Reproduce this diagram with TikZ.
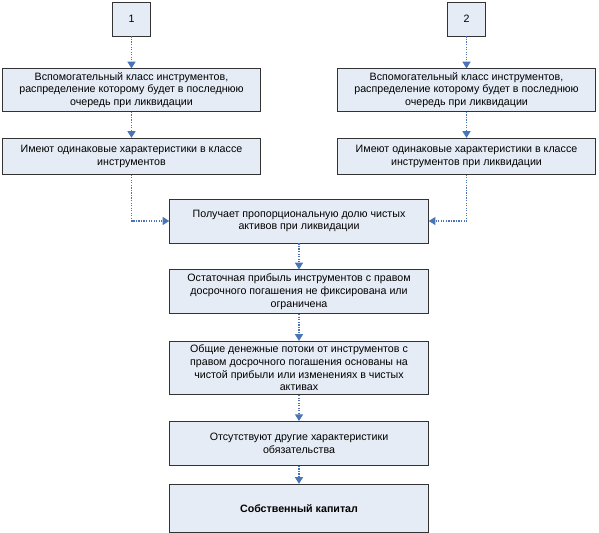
\documentclass[tikz,border=0pt]{standalone}
\usepackage{fontspec}
\setmainfont{Liberation Sans}
\usetikzlibrary{arrows.meta,positioning}
\definecolor{boxfill}{HTML}{E6ECF5}
\definecolor{linkblue}{HTML}{4A74B8}
\definecolor{edgegray}{HTML}{333333}

\begin{document}
\begin{tikzpicture}[x=0.75pt,y=-0.75pt,
    block/.style={draw=edgegray, fill=boxfill, line width=0.6pt,
                  minimum width=194pt, minimum height=#1, align=center,
                  inner sep=2pt, font=\fontsize{8}{9.5}\selectfont},
    block/.default=33pt,
    tag/.style={draw=edgegray, fill=boxfill, line width=0.6pt,
                minimum width=29pt, minimum height=25.5pt,
                font=\fontsize{8}{9.5}\selectfont},
    link/.style={-{Triangle[length=5pt,width=6pt]}, densely dotted,
                 line width=0.9pt, linkblue}
  ]
    \useasboundingbox (0,0) rectangle (599,532);

    % two starting classes
    \node[tag] (one) at (131.5,19) {1};
    \node[tag] (two) at (466.5,19) {2};

    \node[block=32pt, below=24pt of one] (l1)
      {Вспомогательный класс инструментов,\\распределение которому будет в последнюю\\очередь при ликвидации};
    \node[block=27pt, below=19.5pt of l1] (l2)
      {Имеют одинаковые характеристики в классе\\инструментов};

    \node[block=32pt, below=24pt of two] (r1)
      {Вспомогательный класс инструментов,\\распределение которому будет в последнюю\\очередь при ликвидации};
    \node[block=27pt, below=19.5pt of r1] (r2)
      {Имеют одинаковые характеристики в классе\\инструментов при ликвидации};

    % common chain
    \node[block] (c1) at (299,221)
      {Получает пропорциональную долю чистых\\активов при ликвидации};
    \node[block, below=19.5pt of c1] (c2)
      {Остаточная прибыль инструментов с правом\\досрочного погашения не фиксирована или\\ограничена};
    \node[block=40pt, below=20pt of c2] (c3)
      {Общие денежные потоки от инструментов с\\правом досрочного погашения основаны на\\чистой прибыли или изменениях в чистых\\активах};
    \node[block, below=19.5pt of c3] (c4)
      {Отсутствуют другие характеристики\\обязательства};
    \node[block=36pt, below=13.5pt of c4] (c5)
      {\textbf{Собственный капитал}};

    \draw[link] (one) -- (l1);
    \draw[link] (l1) -- (l2);
    \draw[link] (two) -- (r1);
    \draw[link] (r1) -- (r2);
    \draw[link] (l2.south) |- (c1.west);
    \draw[link] (r2.south) |- (c1.east);
    \draw[link] (c1) -- (c2);
    \draw[link] (c2) -- (c3);
    \draw[link] (c3) -- (c4);
    \draw[link] (c4) -- (c5);
  \end{tikzpicture}
\end{document}
